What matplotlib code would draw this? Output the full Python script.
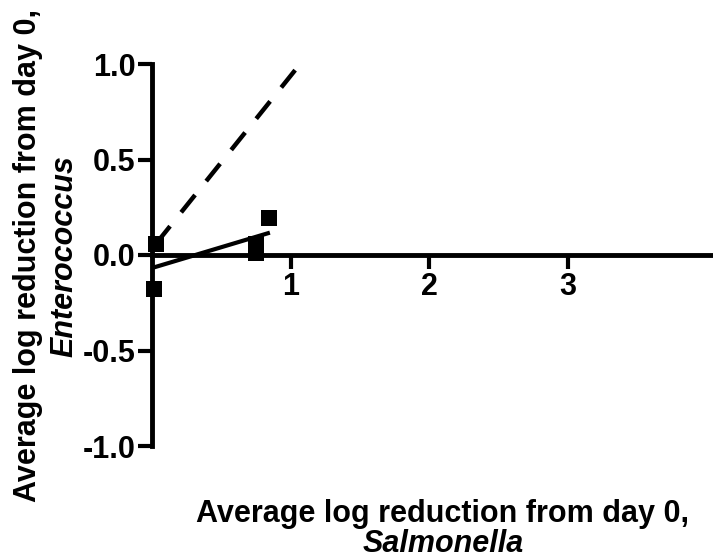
import matplotlib
matplotlib.use("Agg")
import matplotlib.pyplot as plt

# average log reduction from day 0
salmonella = [0.032, 0.014, 0.753, 0.753, 0.847]
enterococcus = [0.060, -0.176, 0.055, 0.013, 0.195]

# fitted line and comparison line (end points)
fit_x = [0.0, 0.85]
fit_y = [-0.068, 0.117]
ref_x = [0.03, 1.04]
ref_y = [0.06, 0.975]

x_ticks = [1, 2, 3]
y_ticks = [-1.0, -0.5, 0.0, 0.5, 1.0]

plt.rcParams['font.family'] = ['Liberation Sans', 'DejaVu Sans']
plt.rcParams['font.weight'] = 'bold'
FS = 22

fig = plt.figure(figsize=(7.13, 5.59), dpi=100)
ax = fig.add_axes([152/713, 1 - 446/559, 1 - 152/713, (446 - 64)/559])

ax.plot(ref_x, ref_y, color='black', lw=3.2, dashes=(5, 4), dash_capstyle='butt',
        solid_capstyle='butt')
ax.plot(fit_x, fit_y, color='black', lw=3.0, solid_capstyle='butt')
ax.plot(salmonella, enterococcus, 's', color='black', ms=11, mew=0, clip_on=False,
        zorder=5)

ax.set_xlim(0, 4.045)
ax.set_ylim(-1.0, 1.0)

ax.spines['top'].set_visible(False)
ax.spines['right'].set_visible(False)
ax.spines['bottom'].set_position(('data', 0))
for s in ['left', 'bottom']:
    ax.spines[s].set_linewidth(3.5)

ax.set_xticks(x_ticks)
ax.set_xticklabels([str(t) for t in x_ticks])
ax.set_yticks(y_ticks)
ax.set_yticklabels(['%.1f' % t for t in y_ticks])
ax.tick_params(direction='out', length=10, width=3, labelsize=FS, pad=2)

# axis titles, plain and italic parts
fig.text(443/713, 1 - 522/559, 'Average log reduction from day 0,', fontsize=FS,
         fontweight='bold', ha='center', va='baseline')
fig.text(443/713, 1 - 552/559, 'Salmonella', fontsize=FS, fontweight='bold',
         style='italic', ha='center', va='baseline')
fig.text(36/713, 1 - 256/559, 'Average log reduction from day 0,', fontsize=FS,
         fontweight='bold', ha='center', va='baseline', rotation=90,
         rotation_mode='anchor')
fig.text(72/713, 1 - 256/559, 'Enterococcus', fontsize=FS, fontweight='bold',
         style='italic', ha='center', va='baseline', rotation=90,
         rotation_mode='anchor')

fig.savefig('out.png', dpi=100)
